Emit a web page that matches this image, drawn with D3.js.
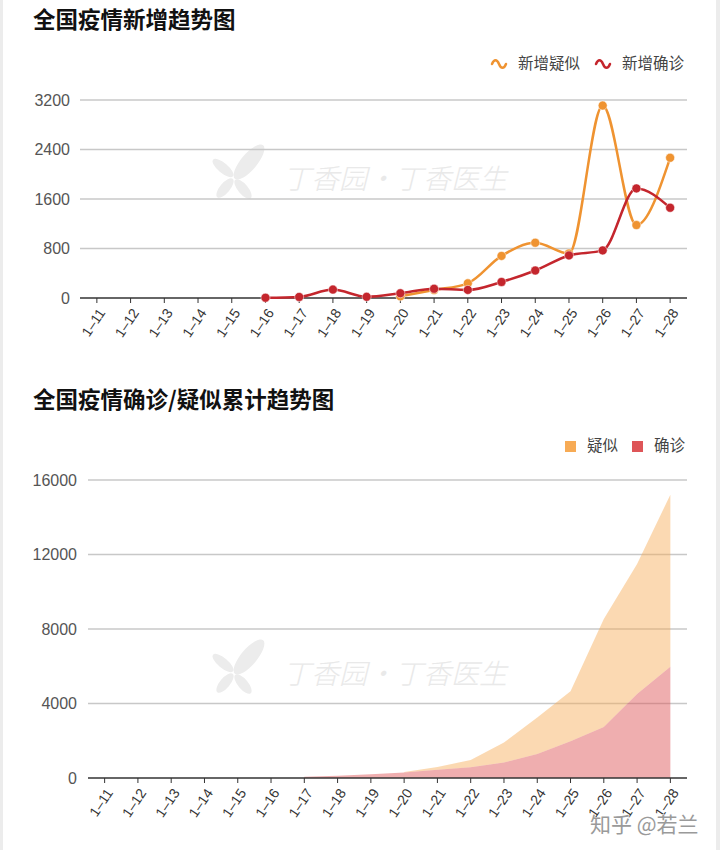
<!DOCTYPE html>
<html>
<head>
<meta charset="utf-8">
<script src="https://cdn.jsdelivr.net/npm/d3@7/dist/d3.min.js"></script>
<style>
  html, body { margin: 0; padding: 0; background: #fff; }
  svg { display: block; }
  text { font-family: "Liberation Sans", "Noto Sans CJK SC", sans-serif; }
  .cjk { font-family: "Noto Sans CJK SC", sans-serif; }
</style>
</head>
<body>
<svg id="chart" width="720" height="850"></svg>
<script>
// ---- data ----
const dates = ["1–11","1–12","1–13","1–14","1–15","1–16","1–17","1–18","1–19","1–20","1–21","1–22","1–23","1–24","1–25","1–26","1–27","1–28"];
const newSuspected = [null,null,null,null,null,null,null,null,null,27,129,237,680,893,719,3110,1179,2266];
const newConfirmed = [null,null,null,null,null,4,17,136,19,77,149,131,259,444,688,769,1771,1459];
const cumConfirmed = [null,null,null,null,null,null,62,121,198,291,440,571,830,1287,1975,2744,4515,5974];
const cumSuspected = [null,null,null,null,null,null,null,null,null,27,156,393,1072,1965,2684,5794,6973,9239];
const topTicks = [0,800,1600,2400,3200];
const bottomTicks = [0,4000,8000,12000,16000];
const title1 = "全国疫情新增趋势图";
const title2 = "全国疫情确诊/疑似累计趋势图";
const legend1 = ["新增疑似","新增确诊"];
const legend2 = ["疑似","确诊"];

const ORANGE = "#ef9331", RED = "#c4262d";
const AREA_OR = "#f7ab55", AREA_RED = "#de5558";

const svg = d3.select("#chart");

// page side borders
svg.append("rect").attr("x",0).attr("y",0).attr("width",3).attr("height",850).attr("fill","#ececec");
svg.append("rect").attr("x",716).attr("y",0).attr("width",4).attr("height",850).attr("fill","#ececec");

function watermark(g, cx, cy) {
  const w = g.append("g").attr("transform", `translate(${cx},${cy})`).attr("fill","#ececec");
  // leaf icon
  w.append("ellipse").attr("cx",36).attr("cy",-14).attr("rx",8).attr("ry",22).attr("transform","rotate(40,36,-14)");
  w.append("ellipse").attr("cx",10).attr("cy",-8).attr("rx",5).attr("ry",13).attr("transform","rotate(-50,10,-8)");
  w.append("ellipse").attr("cx",12).attr("cy",12).attr("rx",5).attr("ry",12).attr("transform","rotate(40,12,12)");
  w.append("ellipse").attr("cx",30).attr("cy",13).attr("rx",5).attr("ry",12).attr("transform","rotate(-40,30,13)");
  w.append("text").attr("class","cjk").attr("x",70).attr("y",13)
    .attr("font-size",28).attr("font-weight",300).attr("font-style","italic")
    .attr("fill","#e9e9e9").text("丁香园·丁香医生");
}

function xAxisDraw(g, x, y0, left, right) {
  g.append("line").attr("x1",left).attr("x2",right).attr("y1",y0).attr("y2",y0)
    .attr("stroke","#333").attr("stroke-width",1.5);
  dates.forEach(d => {
    const cx = x(d) + x.bandwidth()/2;
    g.append("line").attr("x1",cx).attr("x2",cx).attr("y1",y0).attr("y2",y0+5)
      .attr("stroke","#333").attr("stroke-width",1);
    g.append("text").attr("transform",`translate(${cx+5},${y0+12}) rotate(-56)`)
      .attr("text-anchor","end").attr("dy","0.35em").attr("font-size",14).attr("fill","#333")
      .text(d);
  });
}

function yGrid(g, y, ticks, left, right, labelX) {
  ticks.forEach(t => {
    if (t !== 0) g.append("line").attr("x1",left).attr("x2",right).attr("y1",y(t)).attr("y2",y(t))
      .attr("stroke","#c8c8c8").attr("stroke-width",1.5);
    g.append("text").attr("x",labelX).attr("y",y(t)).attr("dy","0.36em")
      .attr("text-anchor","end").attr("font-size",16).attr("fill","#555").text(t);
  });
}

// ===== Chart 1 =====
{
  const g = svg.append("g");
  g.append("text").attr("class","cjk").attr("x",33).attr("y",28).attr("font-size",22.5)
    .attr("font-weight",700).attr("fill","#111").text(title1);

  const left = 80, right = 687;
  const x = d3.scaleBand().domain(dates).range([left, right]);
  const y = d3.scaleLinear().domain([0,3200]).range([298,100]);
  watermark(g, 213, 176);
  yGrid(g, y, topTicks, left, right, 70);

  // legend
  const lg = [{t:legend1[0], c:ORANGE, x:492}, {t:legend1[1], c:RED, x:596}];
  lg.forEach(l => {
    g.append("path").attr("d",`M${l.x},${62} c2,-5 5,-5 7,0 s5,5 7,0`).attr("fill","none")
      .attr("stroke",l.c).attr("stroke-width",2.5).attr("stroke-linecap","round")
      .attr("transform",`translate(0,2)`);
    g.append("text").attr("class","cjk").attr("x",l.x+26).attr("y",64).attr("dy","0.35em")
      .attr("font-size",15.5).attr("fill","#444").text(l.t);
  });

  xAxisDraw(g, x, 298, left, right);

  const cx = i => x(dates[i]) + x.bandwidth()/2;
  const series = [{v:newSuspected, c:ORANGE}, {v:newConfirmed, c:RED}];
  series.forEach(s => {
    const pts = s.v.map((v,i)=>({v,i})).filter(p=>p.v!==null);
    const line = d3.line().x(p=>cx(p.i)).y(p=>y(p.v)).curve(d3.curveMonotoneX);
    g.append("path").attr("d", line(pts)).attr("fill","none").attr("stroke",s.c).attr("stroke-width",2.5);
    g.selectAll(null).data(pts).enter().append("circle")
      .attr("cx",p=>cx(p.i)).attr("cy",p=>y(p.v)).attr("r",4.5)
      .attr("fill",s.c).attr("stroke","#fff").attr("stroke-opacity",0.5).attr("stroke-width",1);
  });
}

// ===== Chart 2 =====
{
  const g = svg.append("g");
  g.append("text").attr("class","cjk").attr("x",33).attr("y",408).attr("font-size",22.5)
    .attr("font-weight",700).attr("fill","#111").text(title2);

  const left = 88, right = 687;
  const x = d3.scaleBand().domain(dates).range([left, right]);
  const y = d3.scaleLinear().domain([0,16000]).range([778,480]);
  watermark(g, 213, 671);

  // legend
  const lg = [{t:legend2[0], c:AREA_OR, x:565}, {t:legend2[1], c:AREA_RED, x:632}];
  lg.forEach(l => {
    g.append("rect").attr("x",l.x).attr("y",441).attr("width",11).attr("height",11).attr("fill",l.c);
    g.append("text").attr("class","cjk").attr("x",l.x+22).attr("y",446).attr("dy","0.35em")
      .attr("font-size",15.5).attr("fill","#444").text(l.t);
  });

  const cx = i => x(dates[i]) + x.bandwidth()/2;
  const conf = cumConfirmed.map((v,i)=>({v,i})).filter(p=>p.v!==null);
  const susp = cumSuspected.map((v,i)=>({v,i,base:cumConfirmed[i]||0})).filter(p=>p.v!==null);

  const areaConf = d3.area().x(p=>cx(p.i)).y0(y(0)).y1(p=>y(p.v));
  const areaSusp = d3.area().x(p=>cx(p.i)).y0(p=>y(p.base)).y1(p=>y(p.base+p.v));

  yGrid(g, y, bottomTicks, left, right, 77);
  g.append("path").attr("d",areaSusp(susp)).attr("fill",AREA_OR).attr("fill-opacity",0.45);
  g.append("path").attr("d",areaConf(conf)).attr("fill",AREA_RED).attr("fill-opacity",0.48);

  xAxisDraw(g, x, 778, left, right);

  // source watermark
  g.append("text").attr("class","cjk").attr("x",590).attr("y",832).attr("font-size",21)
    .attr("fill","#9a9a9a").attr("stroke","#fff").attr("stroke-width",0.6).attr("paint-order","stroke")
    .text("知乎 @若兰");
}
</script>
</body>
</html>
